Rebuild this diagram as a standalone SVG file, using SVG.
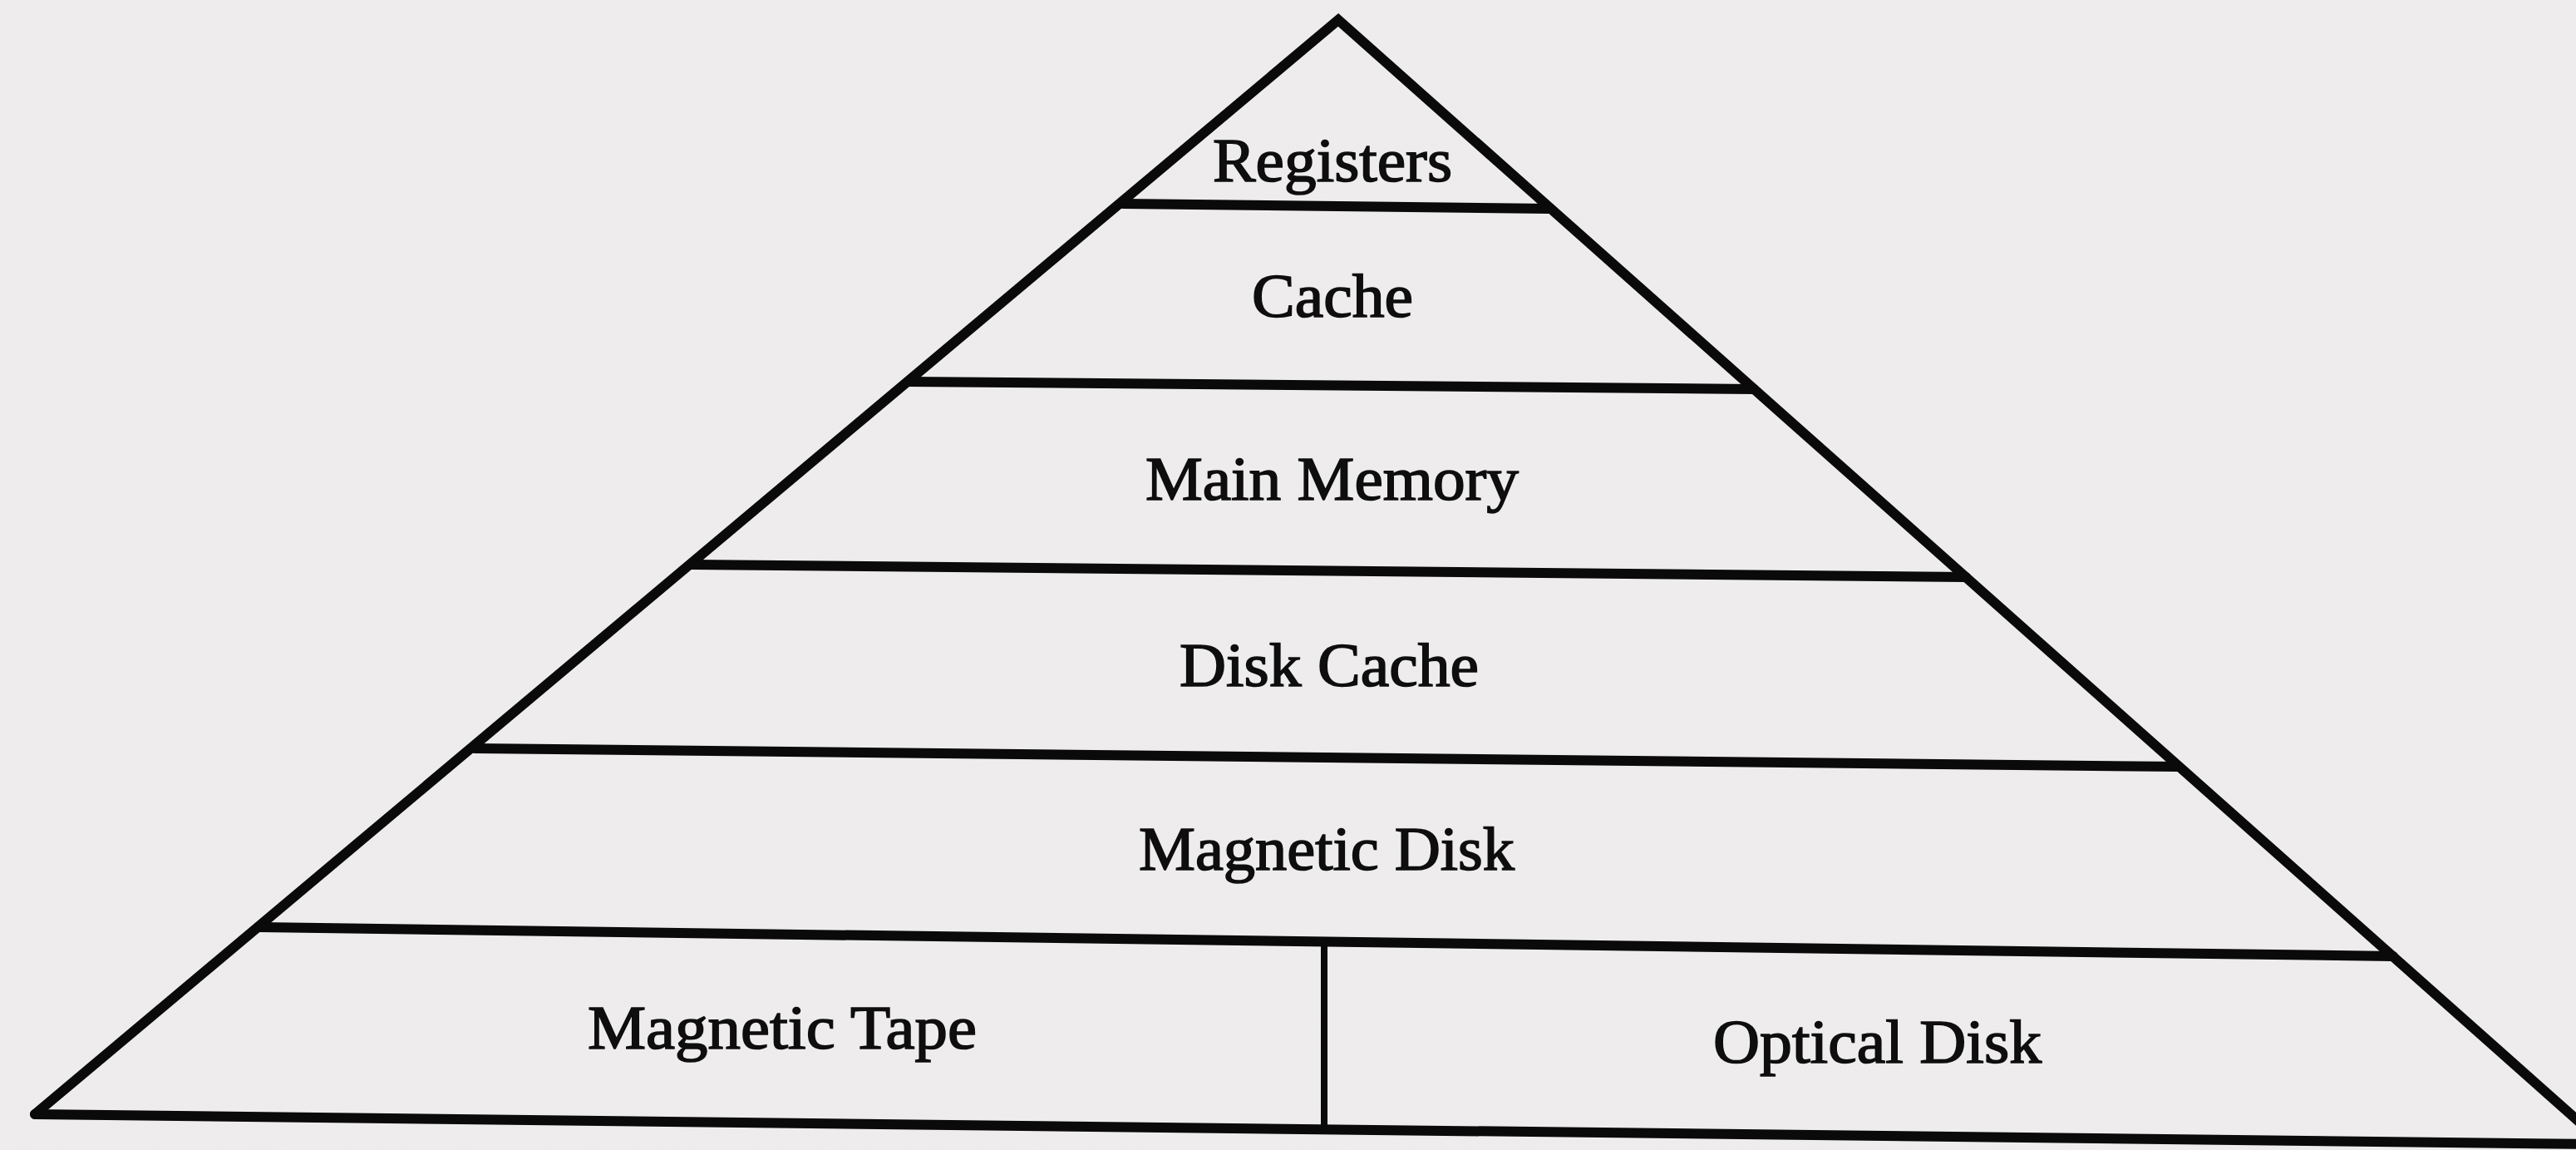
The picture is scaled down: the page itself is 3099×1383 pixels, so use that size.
<svg xmlns="http://www.w3.org/2000/svg" width="3099" height="1383" viewBox="0 0 3099 1383">
  <style>
    .ln { stroke: #0a0a0a; stroke-width: 12; stroke-linecap: round; stroke-linejoin: miter; fill: none; }
    .div { stroke: #0a0a0a; stroke-width: 8; fill: none; }
    .lbl { font-family: "Liberation Serif", "Times New Roman", serif; font-size: 73px; fill: #0e0e0e; stroke: #0e0e0e; stroke-width: 1.6; }
  </style>
  <defs>
    <filter id="paper" x="0" y="0" width="100%" height="100%">
      <feTurbulence type="fractalNoise" baseFrequency="0.6" numOctaves="2" seed="3" result="n"/>
      <feColorMatrix type="matrix" values="0 0 0 0 0.85  0 0 0 0 0.84  0 0 0 0 0.84  0 0 0 0.35 0" />
    </filter>
  </defs>
  <rect id="background" x="0" y="0" width="3099" height="1383" fill="#eeecec"/>
  <rect x="0" y="0" width="3099" height="1383" filter="url(#paper)" opacity="0.6"/>

  <g id="connectors">
    <!-- pyramid outline -->
    <polyline class="ln" points="42,1340 1610,24 3132,1375"/>
    <line class="ln" x1="42" y1="1340" x2="3110" y2="1376"/>
    <!-- layer separators -->
    <line class="ln" x1="1351" y1="245" x2="1864" y2="251"/>
    <line class="ln" x1="1092" y1="459" x2="2110" y2="468"/>
    <line class="ln" x1="832" y1="679" x2="2365" y2="694"/>
    <line class="ln" x1="571" y1="900" x2="2621" y2="922"/>
    <line class="ln" x1="312" y1="1115" x2="2879" y2="1150"/>
    <!-- vertical divider in bottom layer -->
    <line class="div" x1="1593" y1="1134" x2="1593" y2="1358"/>
  </g>

  <g id="registers">
    <text class="lbl" x="1459" y="218" textLength="288" lengthAdjust="spacingAndGlyphs">Registers</text>
  </g>
  <g id="cache">
    <text class="lbl" x="1506" y="381" textLength="194" lengthAdjust="spacingAndGlyphs">Cache</text>
  </g>
  <g id="main-memory">
    <text class="lbl" x="1378" y="601" textLength="449" lengthAdjust="spacingAndGlyphs">Main Memory</text>
  </g>
  <g id="disk-cache">
    <text class="lbl" x="1419" y="825" textLength="360" lengthAdjust="spacingAndGlyphs">Disk Cache</text>
  </g>
  <g id="magnetic-disk">
    <text class="lbl" x="1370" y="1046" textLength="452" lengthAdjust="spacingAndGlyphs">Magnetic Disk</text>
  </g>
  <g id="magnetic-tape">
    <text class="lbl" x="707" y="1261" textLength="468" lengthAdjust="spacingAndGlyphs">Magnetic Tape</text>
  </g>
  <g id="optical-disk">
    <text class="lbl" x="2061" y="1278" textLength="395" lengthAdjust="spacingAndGlyphs">Optical Disk</text>
  </g>
</svg>
